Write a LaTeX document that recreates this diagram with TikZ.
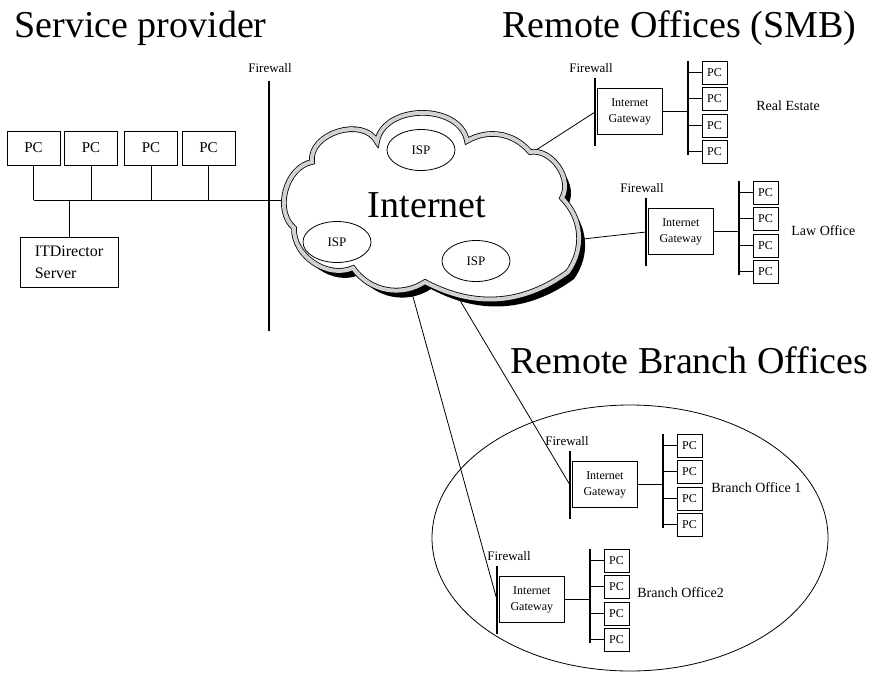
\documentclass[tikz,border=0pt]{standalone}
\usepackage{fontspec}
\setmainfont{Liberation Serif}
\usetikzlibrary{shapes.geometric}
\newcommand{\fsz}[2]{\fontsize{#1}{#2}\selectfont}
\newcommand{\cloudpath}{(377,142) to[bend left=80,looseness=1.1] (467,141)
  to[bend left=40] (530,152) to[bend left=65] (562,198) to[bend left=40] (568,272)
  to[bend left=32] (425,282) to[bend left=44] (353,268) to[bend left=58] (294,228)
  to[bend left=64] (312,162) to[bend left=80,looseness=1.1] (377,142) -- cycle}

\begin{document}
\begin{tikzpicture}[x=1pt,y=-1pt,line width=0.8pt,
  box/.style={draw,inner sep=0pt},
  pcbig/.style={box,minimum width=53,minimum height=34,font=\fsz{15}{15}},
  pcsmall/.style={box,minimum width=25,minimum height=23,font=\fsz{12}{12}},
  gateway/.style={box,minimum width=65,minimum height=46,align=center,font=\fsz{12}{16}},
  fwlabel/.style={font=\fsz{13}{13},inner sep=0pt},
  title/.style={font=\fsz{38}{38},inner sep=0pt,anchor=base west},
  isp/.style={ellipse,draw,fill=white,minimum width=68,minimum height=41,inner sep=0pt,font=\fsz{13}{13}},
  wall/.style={line width=1.4pt}]
\useasboundingbox (0,0) rectangle (873,675);

\node[title] (sp) at (14,37) {Service provider};
\node[title] (rso) at (502,37) {Remote Offices (SMB)};
\node[title] (rbo) at (510,373) {Remote Branch Offices};

\coordinate (netw) at (290,200);
\coordinate (netre) at (530,154);
\coordinate (netlaw) at (574,240);
\coordinate (netbo1) at (455,292);
\coordinate (netbo2) at (410,286);

\foreach \x [count=\i] in {33.5,91,151,208.5}
  \node[pcbig] (pc\i) at (\x,148) {PC};
\node[box,minimum width=98,minimum height=50,align=left,font=\fsz{16}{22}] (server) at (69,262) {ITDirector\\Server};
\coordinate (lan) at (33.5,200);
\draw (lan) -- (netw);
\foreach \i in {1,...,4}
  \draw (pc\i) -- (pc\i |- lan);
\draw (server) -- (server |- lan);
\coordinate (fwt0) at (269,81);
\coordinate (fwb0) at (269,331);
\draw[wall] (fwt0) -- (fwb0);
\node[fwlabel] (fwl0) at (270,68) {Firewall};

\node[ellipse,draw,minimum width=396,minimum height=266] (branch) at (630,538) {};

\foreach \gx/\gy/\fx/\lab/\lx/\ly/\cn [count=\i] in
  {597/88/-6/Real Estate/159/18/netre, 648/208/-6/Law Office/143/23/netlaw,
   572/461/-5/Branch Office 1/139/27/netbo1, 499/576/10/Branch Office2/138/17/netbo2}
{
  \node[gateway,anchor=north west] (gw\i) at (\gx,\gy) {Internet\\Gateway};
  \coordinate (fwt\i) at (\gx-2,\gy-10);
  \coordinate (fwb\i) at (\gx-2,\gy+58);
  \coordinate (fwin\i) at (\gx-2,\gy+24);
  \draw[wall] (fwt\i) -- (fwb\i);
  \node[fwlabel] (fwl\i) at (\gx+\fx,\gy-20) {Firewall};
  \coordinate (bust\i) at (\gx+91,\gy-27);
  \coordinate (busb\i) at (\gx+91,\gy+67);
  \draw[wall] (bust\i) -- (busb\i);
  \draw (gw\i) -- (gw\i -| bust\i);
  \foreach \dy [count=\j] in {-15.5,10.5,37.5,63.5} {
    \node[pcsmall] (pc\i\j) at (\gx+117.5,\gy+\dy) {PC};
    \draw (pc\i\j) -- (pc\i\j -| bust\i);
  }
  \node[font=\fsz{14}{14},anchor=west,inner sep=0pt] (lab\i) at (\gx+\lx,\gy+\ly) {\lab};
  \draw (\cn) -- (fwin\i);
}

\fill[black,shift={(6,7)}] \cloudpath;
\draw[fill=white,double=gray!35,double distance=4pt] \cloudpath;
\node[font=\fsz{38}{38}] (net) at (427,205) {Internet};
\node[isp] (isp1) at (421,150) {ISP};
\node[isp] (isp2) at (337,242) {ISP};
\node[isp] (isp3) at (476,261) {ISP};
\end{tikzpicture}
\end{document}
